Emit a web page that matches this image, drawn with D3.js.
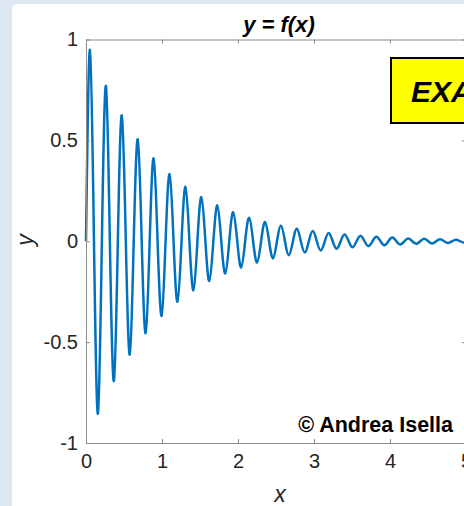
<!doctype html><html><head>
<meta charset="utf-8">
<style>
  body { margin: 0; background: #dee7f2; }
  text { font-family: "Liberation Sans", Arial, sans-serif; }
</style>
</head><body><script src='https://d3js.org/d3.v7.min.js'></script>

<script>
  // damped oscillation, sampled at its zero crossings and extrema
  const zeroX = [0, 0.105, 0.209, 0.314, 0.419, 0.524, 0.628, 0.733, 0.838, 0.942,
    1.047, 1.152, 1.257, 1.361, 1.466, 1.571, 1.676, 1.780, 1.885, 1.990,
    2.094, 2.199, 2.304, 2.409, 2.513, 2.618, 2.723, 2.827, 2.932, 3.037,
    3.142, 3.246, 3.351, 3.456, 3.560, 3.665, 3.770, 3.875, 3.979, 4.084,
    4.189, 4.294, 4.398, 4.503, 4.608, 4.712, 4.817, 4.922];
  const peakX = [0.052, 0.157, 0.262, 0.367, 0.471, 0.576, 0.681, 0.785, 0.890, 0.995,
    1.100, 1.204, 1.309, 1.414, 1.518, 1.623, 1.728, 1.833, 1.937, 2.042,
    2.147, 2.251, 2.356, 2.461, 2.566, 2.670, 2.775, 2.880, 2.985, 3.089,
    3.194, 3.299, 3.403, 3.508, 3.613, 3.718, 3.822, 3.927, 4.032, 4.136,
    4.241, 4.346, 4.451, 4.555, 4.660, 4.765, 4.869, 4.974];
  const peakY = [0.949, -0.855, 0.770, -0.693, 0.624, -0.562, 0.506, -0.456, 0.411, -0.370,
    0.333, -0.300, 0.270, -0.243, 0.219, -0.197, 0.178, -0.160, 0.144, -0.130,
    0.117, -0.105, 0.095, -0.085, 0.077, -0.069, 0.062, -0.056, 0.051, -0.046,
    0.041, -0.037, 0.033, -0.030, 0.027, -0.024, 0.022, -0.020, 0.018, -0.016,
    0.014, -0.013, 0.012, -0.011, 0.0095, -0.0085, 0.0077, -0.0069];
  const endPoint = [5.0, -0.005];

  const xTicks = [0, 1, 2, 3, 4, 5];
  const yTicks = [-1, -0.5, 0, 0.5, 1];
  const yTickLabels = ["-1", "-0.5", "0", "0.5", "1"];

  const width = 464, height = 506;

  var svg = d3.select("body").append("svg")
    .attr("width", width)
    .attr("height", height)
    .style("display", "block");

  // white figure panel
  svg.append("rect")
    .attr("x", 12).attr("y", 4)
    .attr("width", 600).attr("height", 600)
    .attr("rx", 5)
    .attr("fill", "white");

  var x = d3.scaleLinear().domain([0, 5]).range([86, 466]);
  var y = d3.scaleLinear().domain([-1, 1]).range([443, 39.5]);

  var pts = [];
  zeroX.forEach(function(zx, i) {
    pts.push([zx, 0]);
    pts.push([peakX[i], peakY[i]]);
  });
  pts.push(endPoint);

  var line = d3.line()
    .x(function(d) { return x(d[0]); })
    .y(function(d) { return y(d[1]); })
    .curve(d3.curveNatural);

  svg.append("path")
    .datum(pts)
    .attr("d", line)
    .attr("fill", "none")
    .attr("stroke", "#0072bd")
    .attr("stroke-width", 2.5);

  // axes box with inward ticks on all sides
  const axisColor = "#8c8c8c";
  function axisStyle(g) {
    g.select(".domain").attr("stroke", axisColor);
    g.selectAll(".tick line").attr("stroke", axisColor);
    g.selectAll(".tick text")
      .attr("fill", "#262626")
      .style("font-size", "20px");
  }

  svg.append("g")
    .attr("transform", "translate(0," + y(-1) + ")")
    .call(d3.axisBottom(x).tickValues(xTicks).tickSize(-4).tickSizeOuter(0).tickPadding(11).tickFormat(d3.format("d")))
    .call(axisStyle)
    .call(function(g) { g.selectAll(".tick text").attr("dy", "0.71em"); });

  svg.append("g")
    .attr("transform", "translate(0," + y(1) + ")")
    .call(d3.axisTop(x).tickValues(xTicks).tickSize(-4).tickSizeOuter(0).tickFormat(""))
    .call(axisStyle);

  svg.append("g")
    .attr("transform", "translate(" + x(0) + ",0)")
    .call(d3.axisLeft(y).tickValues(yTicks).tickSize(-4).tickSizeOuter(0).tickPadding(8)
      .tickFormat(function(d, i) { return yTickLabels[i]; }))
    .call(axisStyle);

  svg.append("g")
    .attr("transform", "translate(" + x(5) + ",0)")
    .call(d3.axisRight(y).tickValues(yTicks).tickSize(-4).tickSizeOuter(0).tickFormat(""))
    .call(axisStyle);

  svg.selectAll("g").attr("font-family", "Liberation Sans, Arial, sans-serif");

  // title and axis labels
  svg.append("text")
    .attr("x", 279).attr("y", 32)
    .attr("text-anchor", "middle")
    .attr("font-size", "22px")
    .attr("font-weight", "bold")
    .attr("font-style", "italic")
    .attr("fill", "#000")
    .text("y = f(x)");

  svg.append("text")
    .attr("x", 280).attr("y", 502)
    .attr("text-anchor", "middle")
    .attr("font-size", "23px")
    .attr("font-style", "italic")
    .attr("fill", "#262626")
    .text("x");

  svg.append("text")
    .attr("transform", "translate(33,240) rotate(-90)")
    .attr("text-anchor", "middle")
    .attr("font-size", "23px")
    .attr("font-style", "italic")
    .attr("fill", "#262626")
    .text("y");

  // yellow annotation box
  svg.append("rect")
    .attr("x", 391).attr("y", 58)
    .attr("width", 220).attr("height", 65)
    .attr("fill", "#ffff00")
    .attr("stroke", "#000")
    .attr("stroke-width", 2);

  svg.append("text")
    .attr("x", 411).attr("y", 102)
    .attr("font-size", "30px")
    .attr("font-weight", "bold")
    .attr("font-style", "italic")
    .attr("fill", "#000")
    .text("EXAMPLE");

  svg.append("text")
    .attr("x", 453).attr("y", 432)
    .attr("text-anchor", "end")
    .attr("font-size", "21.5px")
    .attr("font-weight", "bold")
    .attr("fill", "#000")
    .text("\u00a9 Andrea Isella");
</script></body></html>
